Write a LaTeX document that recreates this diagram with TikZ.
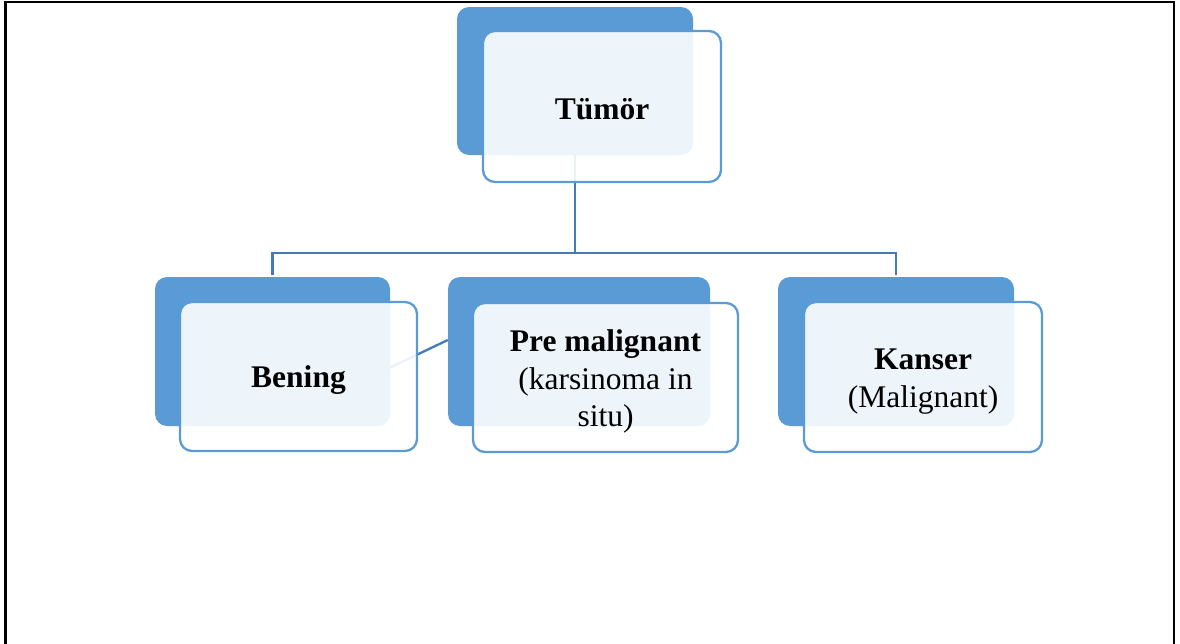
\documentclass[tikz,border=0pt]{standalone}
\usepackage{fontspec}
\setmainfont{Liberation Serif}
\definecolor{boxblue}{RGB}{91,155,213}
\definecolor{connblue}{RGB}{68,122,182}
\tikzset{
  backbox/.style={draw=none, fill=boxblue, rounded corners=12pt, inner sep=0pt},
  frontbox/.style={draw=boxblue, line width=2.3pt, fill=white, fill opacity=0.9, rounded corners=12pt, inner sep=0pt},
  conn/.style={draw=connblue, line width=2.8pt},
  lbl/.style={align=center, inner sep=0pt, text=black, font=\fontsize{31.5}{37.5}\selectfont},
  frame/.style={draw=black, line width=2.6pt}
}
\begin{document}
\begin{tikzpicture}[x=1pt, y=-1pt]
\useasboundingbox (0,0) rectangle (1180,643);
% frame
\draw[frame] (5.7,650) -- (5.7,2) -- (1174,2) -- (1174,650);
% back boxes
\node[backbox, minimum width=236pt, minimum height=148pt] (tb) at (575,81) {};
\node[backbox, minimum width=235pt, minimum height=149pt] (bb) at (272.5,351.5) {};
\node[backbox, minimum width=262pt, minimum height=149pt] (pb) at (579,351.5) {};
\node[backbox, minimum width=236pt, minimum height=149pt] (kb) at (896,351.5) {};
% connectors
\coordinate (hj) at (575,253);
\draw[conn] (tb.south) -- (hj);
\draw[conn] ([yshift=2pt]bb.north) -- (bb.north |- hj) -- (kb.north |- hj) -- ([yshift=2pt]kb.north);
\draw[conn, line width=2.3pt] ([yshift=-16pt]bb.east) -- ([yshift=11.5pt]pb.west);
% front boxes
\node[frontbox, minimum width=238pt, minimum height=151pt] (tf) at (602,106.5) {};
\node[frontbox, minimum width=237pt, minimum height=149pt] (bf) at (298.5,376.5) {};
\node[frontbox, minimum width=265pt, minimum height=149pt] (pf) at (605.5,377.5) {};
\node[frontbox, minimum width=238pt, minimum height=150pt] (kf) at (923,377) {};
% labels
\node[lbl] (tt) at ([yshift=-3pt]tf.center) {\textbf{Tümör}};
\node[lbl] (bt) at ([yshift=-4pt]bf.center) {\textbf{Bening}};
\node[lbl] (pt) at ([yshift=-4pt]pf.center) {\textbf{Pre malignant}\\(karsinoma in\\situ)};
\node[lbl] (kt) at ([yshift=-4.5pt]kf.center) {\textbf{Kanser}\\(Malignant)};
\end{tikzpicture}
\end{document}
